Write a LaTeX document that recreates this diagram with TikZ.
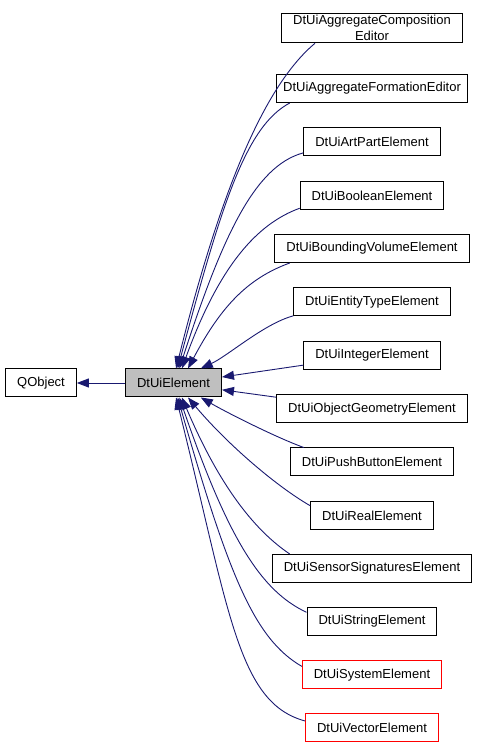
\documentclass[tikz,border=0pt]{standalone}
\usepackage{fontspec}
\setmainfont{Liberation Sans}
\usetikzlibrary{arrows.meta}
\definecolor{dxEdgeBlue}{RGB}{25,25,112}
\definecolor{dxGrey}{RGB}{191,191,191}
\definecolor{dxRed}{RGB}{255,0,0}

\begin{document}
\begin{tikzpicture}[x=1pt, y=1pt,
    cls/.style={draw=black, line width=1pt, fill=white, minimum height=28pt, inner xsep=11.5pt, inner ysep=2pt, align=center, font=\fontsize{13}{16}\selectfont},
    undoc/.style={cls, draw=dxRed},
    inherit/.style={draw=dxEdgeBlue, line width=0.9pt, -{Triangle[length=12pt, width=9pt]}}]
    \useasboundingbox (0,0) rectangle (477,749);

    \node[cls] (qobject) at (41,366) {QObject};
    \node[cls, fill=dxGrey] (element) at (173.5,366) {DtUiElement};

    \node[cls] (compEditor) at (372,721) {DtUiAggregateComposition\\Editor};
    \node[cls, inner xsep=7pt] (formEditor) at (372,660.5) {DtUiAggregateFormationEditor};
    \node[cls] (artPart) at (372,607) {DtUiArtPartElement};
    \node[cls] (booleanEl) at (372,553.5) {DtUiBooleanElement};
    \node[cls] (boundVol) at (372,500.5) {DtUiBoundingVolumeElement};
    \node[cls] (entityType) at (372,447) {DtUiEntityTypeElement};
    \node[cls] (integerEl) at (372,393.5) {DtUiIntegerElement};
    \node[cls] (objGeom) at (372,340) {DtUiObjectGeometryElement};
    \node[cls] (pushButton) at (372,287) {DtUiPushButtonElement};
    \node[cls] (realEl) at (372,233.5) {DtUiRealElement};
    \node[cls] (sensorSig) at (372,180.5) {DtUiSensorSignaturesElement};
    \node[cls] (stringEl) at (372,127.5) {DtUiStringElement};
    \node[undoc] (systemEl) at (372,74) {DtUiSystemElement};
    \node[undoc] (vectorEl) at (372,21) {DtUiVectorElement};

    \draw[inherit] (element.west) -- (qobject.east);

    \draw[inherit] (compEditor.195) .. controls +(220:60) and +(76:200) .. (element.80);
    \draw[inherit] (formEditor.190) .. controls +(208:50) and +(75:170) .. (element.74);
    \draw[inherit] (artPart.189) .. controls +(195:50) and +(72:140) .. (element.68);
    \draw[inherit] (booleanEl.190) .. controls +(200:45) and +(70:110) .. (element.60);
    \draw[inherit] (boundVol.190) .. controls +(200:45) and +(62:70) .. (element.45);
    \draw[inherit] (entityType.190) .. controls +(195:30) and +(25:30) .. (element.28);
    \draw[inherit] (integerEl.188) -- (element.7);
    \draw[inherit] (objGeom.173) -- (element.-8);
    \draw[inherit] (pushButton.168) .. controls +(160:30) and +(-30:30) .. (element.-28);
    \draw[inherit] (realEl.171) .. controls +(150:40) and +(-50:60) .. (element.-45);
    \draw[inherit] (sensorSig.170) .. controls +(146:40) and +(-67:100) .. (element.-60);
    \draw[inherit] (stringEl.172) .. controls +(155:50) and +(-71:150) .. (element.-68);
    \draw[inherit] (systemEl.173) .. controls +(150:55) and +(-74:185) .. (element.-74);
    \draw[inherit] (vectorEl.174) .. controls +(165:70) and +(-76:220) .. (element.-80);
\end{tikzpicture}
\end{document}
